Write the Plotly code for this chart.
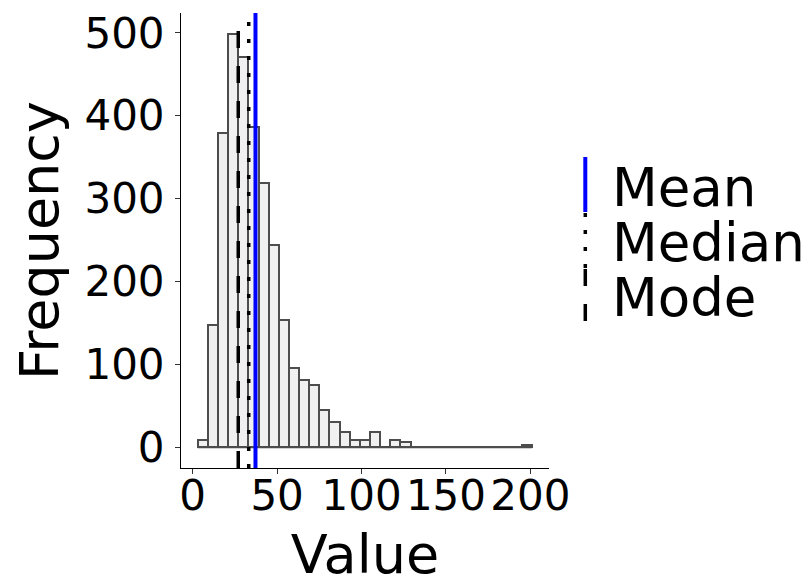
import plotly.graph_objects as go

# ---- data ----
bin_width = 6
bin_centers = [6, 12, 18, 24, 30, 36, 42, 48, 54, 60, 66, 72, 78, 84, 90, 96, 102,
               108, 114, 120, 126, 132, 138, 144, 150, 156, 162, 168, 174, 180,
               186, 192, 198]
counts = [9, 148, 379, 499, 471, 386, 319, 244, 153, 96, 81, 75, 45, 30, 18, 9, 9,
          18, 0, 9, 6, 0, 0, 0, 0, 0, 0, 0, 0, 0, 0, 0, 3]
mean_val = 37.2
median_val = 33.2
mode_val = 27.0
x_ticks = [0, 50, 100, 150, 200]
y_ticks = [0, 100, 200, 300, 400, 500]
legend_labels = ["Mean", "Median", "Mode"]

# ---- layout geometry (window pixels; the page body adds an 8px offset) ----
OFF = 8
WIN_W, WIN_H = 809, 586
W, H = WIN_W - OFF, WIN_H - OFF
PLOT_L, PLOT_R, PLOT_T, PLOT_B = 181, 549, 13, 468   # in window pixels
ML, MR = PLOT_L - OFF, WIN_W - PLOT_R
MT, MB = PLOT_T - OFF, WIN_H - PLOT_B
PW, PH = W - ML - MR, H - MT - MB
FONT = "DejaVu Sans"


def px_x(px):
    return (px - PLOT_L) / PW


def px_y(py):
    return (PLOT_B - py) / PH


fig = go.Figure()

# baseline of the histogram (zero-count bins drawn as flat outline)
fig.add_trace(go.Scatter(
    x=[bin_centers[0] - bin_width / 2, bin_centers[-1] + bin_width / 2], y=[0, 0],
    mode="lines", line=dict(color="#4d4d4d", width=2), showlegend=False,
    hoverinfo="skip"))

fig.add_trace(go.Bar(
    x=bin_centers, y=counts, width=bin_width,
    marker=dict(color="#f0f0f0", line=dict(color="#4d4d4d", width=2)),
    showlegend=False))

line_styles = {
    "Mean": dict(color="#0000ff", width=4, dash="solid"),
    "Median": dict(color="#000000", width=3.5, dash="4px,13px"),
    "Mode": dict(color="#000000", width=3.5, dash="17px,18px"),
}
for val, lab in zip([mean_val, median_val, mode_val], legend_labels):
    fig.add_shape(type="line", xref="x", yref="paper", x0=val, x1=val, y0=0, y1=1,
                  line=line_styles[lab], layer="above")

# manual legend with vertical keys
key_x = 585.3
key_spans = [(157, 212), (213, 268), (269, 325)]
text_y = [187, 242, 297]
for lab, (y0, y1), ty in zip(legend_labels, key_spans, text_y):
    fig.add_shape(type="line", xref="paper", yref="paper",
                  x0=px_x(key_x), x1=px_x(key_x), y0=px_y(y0), y1=px_y(y1),
                  line=line_styles[lab])
    fig.add_annotation(xref="paper", yref="paper", x=px_x(610), y=px_y(ty),
                       text=lab, showarrow=False, xanchor="left", yanchor="middle",
                       font=dict(family=FONT, size=53, color="black"))

fig.update_layout(
    width=W, height=H,
    margin=dict(l=ML, r=MR, t=MT, b=MB, pad=0, autoexpand=False),
    plot_bgcolor="white", paper_bgcolor="white",
    font=dict(family=FONT, color="black"),
    bargap=0,
)
fig.update_xaxes(
    range=[-6.9, 211], tickvals=x_ticks, ticktext=[str(v) for v in x_ticks],
    tickangle=0, showgrid=False, zeroline=False, automargin=True,
    showline=True, linecolor="black", linewidth=1,
    ticks="outside", ticklen=5, tickcolor="#333333", tickwidth=1,
    ticklabelstandoff=-14,
    tickfont=dict(family=FONT, size=42, color="black"),
    title=dict(text="Value", font=dict(family=FONT, size=54, color="black"), standoff=17),
)
fig.update_yaxes(
    range=[-25, 524], tickvals=y_ticks, ticktext=[str(v) for v in y_ticks],
    showgrid=False, zeroline=False, automargin=True,
    showline=True, linecolor="black", linewidth=1,
    ticks="outside", ticklen=5, tickcolor="#333333", tickwidth=1,
    ticklabelstandoff=2,
    tickfont=dict(family=FONT, size=42, color="black"),
    title=dict(text="Frequency", font=dict(family=FONT, size=54, color="black"), standoff=15),
)

fig.write_html("out.html")
